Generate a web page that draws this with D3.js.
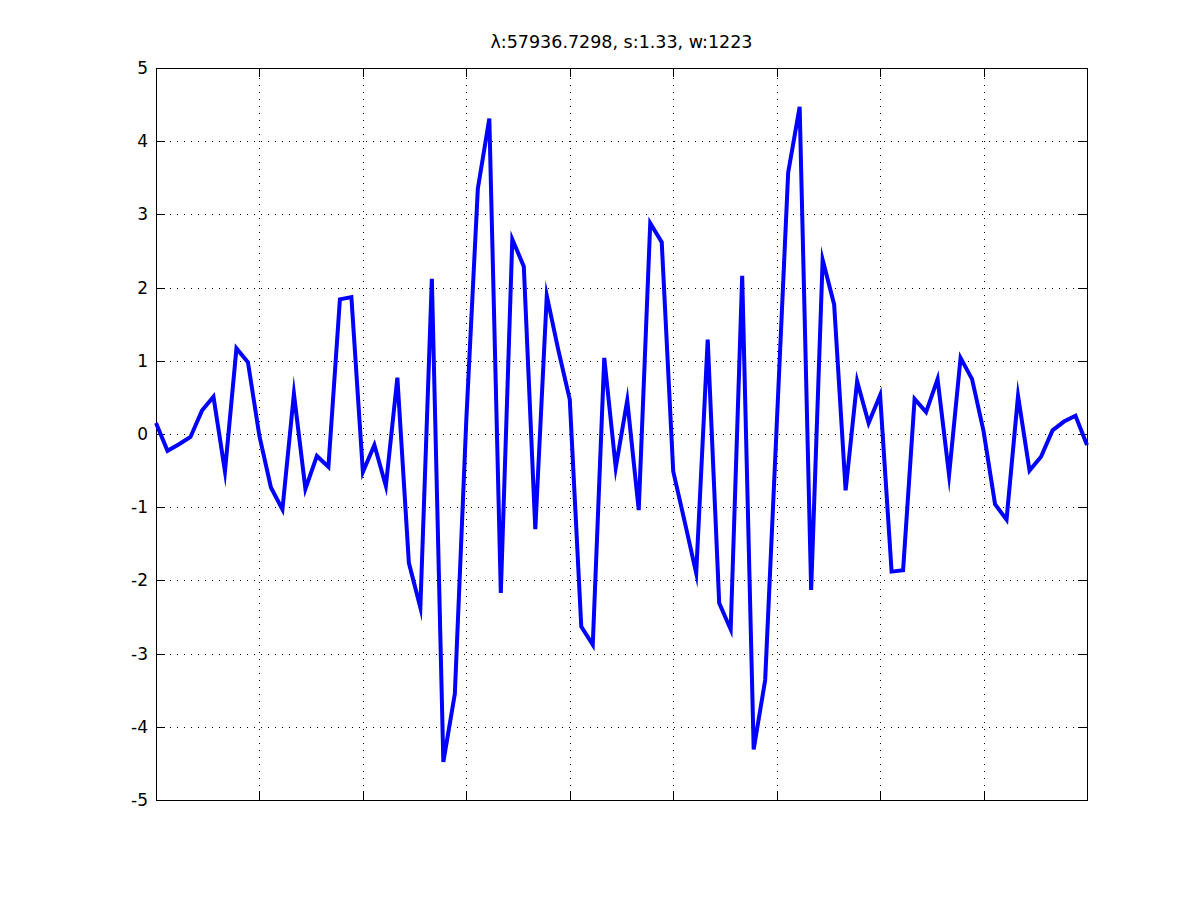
<!DOCTYPE html>
<html>
<head>
<meta charset="utf-8">
<script src="https://cdn.jsdelivr.net/npm/d3@7"></script>
<style>
  html, body { margin: 0; padding: 0; background: #ffffff; }
  svg { display: block; }
  text { font-family: "DejaVu Sans", "Liberation Sans", sans-serif; fill: #000; }
</style>
</head>
<body>
<svg id="chart" width="1200" height="900"></svg>
<script>
// ---- data ----
const titleText = "λ:57936.7298, s:1.33, w:1223";
const sampleIndex = d3.range(1, 83);           // 82 samples
const values = [
  0.15, -0.23, -0.14, -0.04, 0.32, 0.51, -0.51, 1.17, 0.98, -0.03,
  -0.73, -1.03, 0.55, -0.75, -0.30, -0.45, 1.84, 1.87, -0.52, -0.15,
  -0.71, 0.77, -1.76, -2.37, 2.12, -4.48, -3.55, 0.20, 3.35, 4.31,
  -2.17, 2.66, 2.29, -1.30, 1.89, 1.15, 0.47, -2.63, -2.88, 1.04,
  -0.46, 0.46, -1.04, 2.88, 2.62, -0.51, -1.20, -1.90, 1.29, -2.31,
  -2.67, 2.16, -4.31, -3.36, 0.10, 3.57, 4.47, -2.13, 2.38, 1.77,
  -0.77, 0.72, 0.15, 0.53, -1.88, -1.86, 0.48, 0.30, 0.75, -0.56,
  1.04, 0.75, 0.04, -0.96, -1.17, 0.52, -0.50, -0.31, 0.05, 0.17,
  0.25, -0.15
];
const xTicks = [10, 19, 28, 37, 46, 55, 64, 73];
const yTicks = [-5, -4, -3, -2, -1, 0, 1, 2, 3, 4, 5];
const yTickLabels = ["-5", "-4", "-3", "-2", "-1", "0", "1", "2", "3", "4", "5"];
const xDomain = [1, 82];
const yDomain = [-5, 5];

(function () {
  // ---- layout ----
  const mLeft = 156, mRight = 1087, mTop = 68, mBottom = 800;
  const W = mRight - mLeft, H = mBottom - mTop;
  const tickLen = 9;

  const svg = d3.select("#chart");
  const g = svg.append("g").attr("transform", `translate(${mLeft},${mTop})`);

  const x = d3.scaleLinear().domain(xDomain).range([0, W]);
  const y = d3.scaleLinear().domain(yDomain).range([H, 0]);

  // grid (dotted)
  g.append("g").attr("class", "grid")
    .attr("transform", `translate(0,${H})`)
    .call(d3.axisBottom(x).tickValues(xTicks).tickSize(-H).tickFormat(""));
  g.append("g").attr("class", "grid")
    .call(d3.axisLeft(y).tickValues(yTicks.slice(1, -1)).tickSize(-W).tickFormat(""));
  g.selectAll(".grid .domain").remove();
  g.selectAll(".grid line")
    .attr("stroke", "#000").attr("stroke-width", 1)
    .attr("stroke-dasharray", "1,6")
    .attr("shape-rendering", "crispEdges");

  function styleAxis(sel) {
    sel.selectAll("line").attr("stroke", "#000").attr("shape-rendering", "crispEdges");
    sel.selectAll(".domain").attr("stroke", "#000").attr("shape-rendering", "crispEdges");
    sel.selectAll("text").style("font-family", '"DejaVu Sans", sans-serif').attr("font-size", 17).attr("fill", "#000");
  }
  const yAxisL = g.append("g")
    .call(d3.axisLeft(y).tickValues(yTicks).tickSizeInner(-tickLen).tickSizeOuter(0).tickPadding(8)
      .tickFormat((d, i) => yTickLabels[i]));
  styleAxis(yAxisL);
  const yAxisR = g.append("g").attr("transform", `translate(${W},0)`)
    .call(d3.axisRight(y).tickValues(yTicks).tickSizeInner(-tickLen).tickSizeOuter(0).tickFormat(""));
  styleAxis(yAxisR);
  const xAxisB = g.append("g").attr("transform", `translate(0,${H})`)
    .call(d3.axisBottom(x).tickValues(xTicks).tickSizeInner(-tickLen).tickSizeOuter(0).tickFormat(""));
  styleAxis(xAxisB);
  const xAxisT = g.append("g")
    .call(d3.axisTop(x).tickValues(xTicks).tickSizeInner(-tickLen).tickSizeOuter(0).tickFormat(""));
  styleAxis(xAxisT);

  // series line
  const line = d3.line()
    .x((d, i) => x(sampleIndex[i]))
    .y(d => y(d));
  g.append("path")
    .datum(values)
    .attr("fill", "none")
    .attr("stroke", "#0000ff")
    .attr("stroke-width", 4)
    .attr("stroke-linejoin", "miter")
    .attr("stroke-miterlimit", 10)
    .attr("d", line);

  // title
  svg.append("text")
    .attr("x", mLeft + W / 2)
    .attr("y", 48)
    .attr("text-anchor", "middle")
    .attr("font-size", 17.5)
    .text(titleText);
})();
</script>
</body>
</html>
